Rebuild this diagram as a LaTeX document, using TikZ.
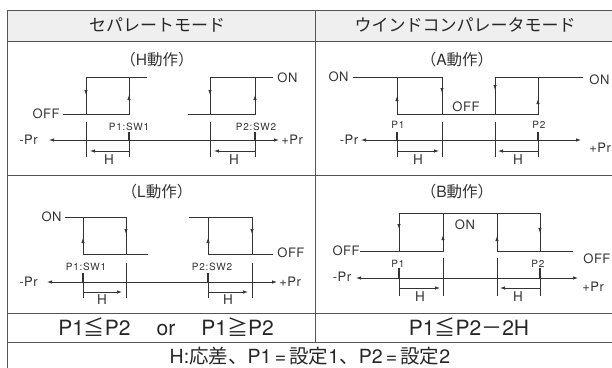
\documentclass[tikz,border=0pt]{standalone}
\usepackage{fontspec}
\setmainfont{TeX Gyre Heros}
\newfontfamily\jp{Noto Sans CJK JP}
\usetikzlibrary{arrows.meta}
\definecolor{ln}{HTML}{333333}
\definecolor{gridc}{HTML}{555555}
\definecolor{hdr}{HTML}{EFEFEF}
\begin{document}
\begin{tikzpicture}[x=1pt,y=-1pt, line width=0.75pt, draw=ln,
  >={Latex[length=5pt,width=3.4pt]},
  mid/.style={-{Latex[length=5pt,width=3.4pt]}},
  lab/.style={inner sep=0pt, text=ln, font=\fontsize{13}{14}\selectfont\addfontfeature{LetterSpace=4}},
  small/.style={inner sep=0pt, text=ln, font=\fontsize{10}{11}\selectfont\addfontfeature{LetterSpace=8}},
  hlab/.style={inner sep=0pt, text=ln, font=\fontsize{13.5}{14}\selectfont},
  ttl/.style={inner sep=0pt, text=ln, font=\fontsize{15.5}{17}\selectfont},
  head/.style={inner sep=0pt, text=black!85, font=\fontsize{17}{18}\selectfont\jp},
  cond/.style={inner sep=0pt, text=black!85, font=\fontsize{21}{23}\selectfont},
  gridl/.style={draw=gridc, line width=0.9pt},
  ptick/.style={line width=1.3pt}]
\useasboundingbox (0,0) rectangle (612,367);
% table
\fill[hdr] (7,10) rectangle (625,41);
\draw[gridl] (625,10) -- (7,10) -- (7,370);
\draw[gridl] (7,41) -- (625,41);
\draw[gridl] (7,175) -- (625,175);
\draw[gridl] (7,313) -- (625,313);
\draw[gridl] (7,342) -- (625,342);
\draw[gridl] (315,10) -- (315,342);
\node[head] (hs) at (157,25) {セパレートモード};
\node[head] (hw) at (465,25) {ウインドコンパレータモード};
% ---------- H section ----------
\node[ttl] (tH) at (157,60) {{\jp （}H{\jp 動作）}};
\draw (147,77) -- (86,77) -- (86,114);
\draw (63,114) -- (129,114) -- (129,77);
\draw[mid] (86,84) -- (86,95);
\draw[mid] (129,106) -- (129,95);
\draw (273,77) -- (210,77) -- (210,114);
\draw (188,114) -- (255,114) -- (255,77);
\draw[mid] (210,84) -- (210,95);
\draw[mid] (255,106) -- (255,95);
\node[lab, anchor=east] (offH) at (60,114) {OFF};
\node[lab, anchor=west] (onH) at (277,78) {ON};
\coordinate (aHl) at (49,140); \coordinate (aHr) at (279,140);
\draw[<->] (aHl) -- (aHr);
\node[lab, anchor=west] (mprH) at (19,140) {-Pr};
\node[lab, anchor=west] (pprH) at (281,140) {+Pr};
\draw (86,122) -- (86,157);
\draw[ptick] (129,132) -- (129,140); \draw (129,140) -- (129,157);
\draw (210,122) -- (210,157);
\draw[ptick] (255,132) -- (255,140); \draw (255,140) -- (255,157);
\draw[->] (129,151) -- (90,151);
\draw[->] (255,151) -- (214,151);
\node[hlab] (hH1) at (109,160) {H};
\node[hlab] (hH2) at (234,160) {H};
\node[small] (p1H) at (129,127) {P1:SW1};
\node[small] (p2H) at (256,127) {P2:SW2};
% ---------- L section ----------
\node[ttl] (tL) at (157,192) {{\jp （}L{\jp 動作）}};
\draw (65,217) -- (126,217) -- (126,254);
\draw (148,254) -- (83,254) -- (83,217);
\draw[mid] (126,223) -- (126,234);
\draw[mid] (83,249) -- (83,238);
\draw (189,217) -- (252,217) -- (252,254);
\draw (273,254) -- (208,254) -- (208,217);
\draw[mid] (252,223) -- (252,234);
\draw[mid] (208,249) -- (208,238);
\node[lab, anchor=east] (onL) at (62,217) {ON};
\node[lab, anchor=west] (offL) at (277,253) {OFF};
\coordinate (aLl) at (47,282); \coordinate (aLr) at (277,282);
\draw[<->] (aLl) -- (aLr);
\node[lab, anchor=west] (mprL) at (19,282) {-Pr};
\node[lab, anchor=west] (pprL) at (279,282) {+Pr};
\draw[ptick] (83,273) -- (83,282); \draw (83,282) -- (83,298);
\draw (126,263) -- (126,298);
\draw[ptick] (208,273) -- (208,282); \draw (208,282) -- (208,298);
\draw (252,263) -- (252,298);
\draw[->] (83,292) -- (122,292);
\draw[->] (208,292) -- (248,292);
\node[hlab] (hL1) at (102,300) {H};
\node[hlab] (hL2) at (228,300) {H};
\node[small] (p1L) at (86,267) {P1:SW1};
\node[small] (p2L) at (212,267) {P2:SW2};
% ---------- A section ----------
\node[ttl] (tA) at (457,60) {{\jp （}A{\jp 動作）}};
\draw (353,77) -- (442,77) -- (442,114);
\draw (397,77) -- (397,114) -- (538,114) -- (538,77);
\draw (495,114) -- (495,77) -- (583,77);
\draw[mid] (397,107) -- (397,96);
\draw[mid] (442,82) -- (442,93);
\draw[mid] (495,79) -- (495,90);
\draw[mid] (538,110) -- (538,99);
\node[lab, anchor=east] (onA1) at (349,77) {ON};
\node[lab, anchor=west] (onA2) at (589,80) {ON};
\node[lab] (offA) at (466,107) {OFF};
\coordinate (aAl) at (361,140); \coordinate (aAr) at (581,140);
\draw[<->] (aAl) -- (aAr);
\node[lab] (mprA) at (349,140) {-Pr};
\node[lab, anchor=west] (pprA) at (589,148) {+Pr};
\draw[ptick] (397,132) -- (397,140); \draw (397,140) -- (397,157);
\draw (442,122) -- (442,157);
\draw (495,122) -- (495,157);
\draw[ptick] (538,132) -- (538,140); \draw (538,140) -- (538,157);
\draw[->] (397,151) -- (439,151);
\draw[->] (538,151) -- (498,151);
\node[hlab] (hA1) at (418,160) {H};
\node[hlab] (hA2) at (518,160) {H};
\node[small] (p1A) at (398,125) {P1};
\node[small] (p2A) at (539,125) {P2};
% ---------- B section ----------
\node[ttl] (tB) at (457,192) {{\jp （}B{\jp 動作）}};
\draw (360,251) -- (443,251) -- (443,213);
\draw (399,251) -- (399,213) -- (540,213) -- (540,251);
\draw (497,213) -- (497,251) -- (573,251);
\draw[mid] (399,218) -- (399,229);
\draw[mid] (443,246) -- (443,235);
\draw[mid] (497,247) -- (497,236);
\draw[mid] (540,222) -- (540,233);
\node[lab, anchor=east] (offB1) at (360,251) {OFF};
\node[lab, anchor=west] (offB2) at (583,259) {OFF};
\node[lab] (onB) at (465,225) {ON};
\coordinate (aBl) at (356,278); \coordinate (aBr) at (578,278);
\draw[<->] (aBl) -- (aBr);
\node[lab] (mprB) at (342,277) {-Pr};
\node[lab, anchor=west] (pprB) at (582,287) {+Pr};
\draw[ptick] (399,268) -- (399,278); \draw (399,278) -- (399,296);
\draw (443,258) -- (443,296);
\draw (497,258) -- (497,296);
\draw[ptick] (540,268) -- (540,278); \draw (540,278) -- (540,296);
\draw[->] (399,288) -- (440,288);
\draw[->] (540,288) -- (500,288);
\node[hlab] (hB1) at (420,297) {H};
\node[hlab] (hB2) at (518,297) {H};
\node[small] (p1B) at (398,264) {P1};
\node[small] (p2B) at (538,264) {P2};
% ---------- conditions ----------
\node[cond] (c1) at (166,327) {P1{\jp ≦}P2\hspace{26pt}or\hspace{26pt}P1{\jp ≧}P2};
\node[cond] (c2) at (469,327) {P1{\jp ≦}P2{\jp －}2H};
\node[inner sep=0pt, text=black!85, font=\fontsize{19.5}{20}\selectfont] (note) at (310,356)
  {H:{\jp 応差、}P1\,=\,{\jp 設定}1{\jp 、}P2\,=\,{\jp 設定}2};
\end{tikzpicture}
\end{document}
